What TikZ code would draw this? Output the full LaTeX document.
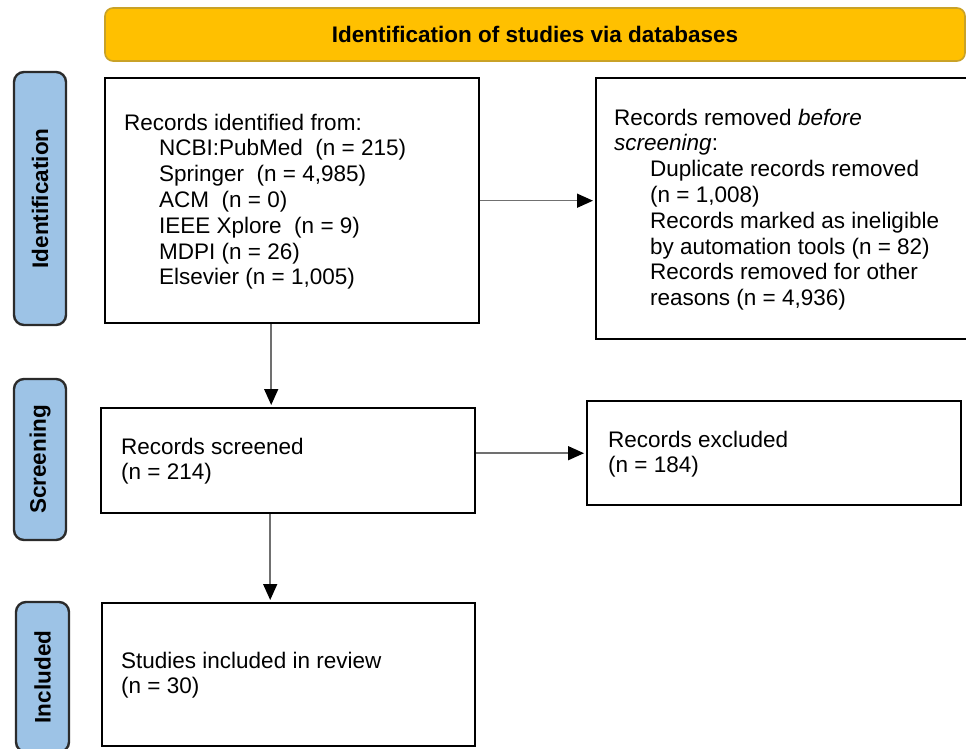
\documentclass[tikz,border=0pt]{standalone}
\usepackage{fontspec}
\setmainfont{Liberation Sans}
\usetikzlibrary{arrows.meta,calc}
\definecolor{bannerfill}{HTML}{FFC000}
\definecolor{bannerdraw}{HTML}{C9A227}
\definecolor{sidefill}{HTML}{9DC3E6}
\definecolor{sidedraw}{HTML}{2B2B2B}
\definecolor{arrowgray}{HTML}{707070}
\begin{document}
\begin{tikzpicture}[x=1pt,y=-1pt,
  every node/.style={font=\fontsize{22.5}{25.8}\selectfont},
  box/.style={draw=black, line width=2.4pt, fill=white, anchor=north west, inner sep=0pt},
  side/.style={draw=sidedraw, line width=2.4pt, fill=sidefill, rounded corners=10pt, inner sep=0pt},
  banner/.style={draw=bannerdraw, line width=1.6pt, fill=bannerfill, rounded corners=8pt, inner sep=0pt},
  txt/.style={anchor=base west, align=left, inner sep=0pt},
  flow/.style={draw=arrowgray, line width=1.5pt, -{Triangle[length=16pt,width=14pt,color=black]}, shorten >=2pt}
]
\clip (0,0) rectangle (966,749);
\fill[white] (0,0) rectangle (966,749);

% banner
\node[banner, minimum width=860pt, minimum height=53pt] (ban) at (535,34.5) {\bfseries Identification of studies via databases};

% side labels
\node[side, minimum width=52pt, minimum height=253pt] (sideI) at (40,198.5) {\rotatebox{90}{\bfseries Identification}};
\node[side, minimum width=52pt, minimum height=161pt] (sideS) at (40,459.5) {\rotatebox{90}{\bfseries Screening}};
\node[side, minimum width=53pt, minimum height=150pt] (sideC) at (42.5,677) {\rotatebox{90}{\bfseries Included}};

% boxes
\node[box, minimum width=374pt, minimum height=245pt] (ident) at (104,77) {};
\node[box, minimum width=385pt, minimum height=261pt] (removed) at (595,77) {};
\node[box, minimum width=374pt, minimum height=105pt] (screen) at (100,407) {};
\node[box, minimum width=374pt, minimum height=104pt] (excl) at (586,400) {};
\node[box, minimum width=373pt, minimum height=143pt] (studies) at (101,602) {};

% texts (anchored at the baseline of the last line)
\node[txt] (identT) at (124,284.8) {Records identified from:\\
\hspace*{35pt}NCBI:PubMed\ \ (n = 215)\\
\hspace*{35pt}Springer\ \ (n = 4,985)\\
\hspace*{35pt}ACM\ \ (n = 0)\\
\hspace*{35pt}IEEE Xplore\ \ (n = 9)\\
\hspace*{35pt}MDPI (n = 26)\\
\hspace*{35pt}Elsevier (n = 1,005)};

\node[txt] (removedT) at (614,305.6) {Records removed \textit{before}\\
\textit{screening}:\\
\hspace*{36pt}Duplicate records removed\\
\hspace*{36pt}(n = 1,008)\\
\hspace*{36pt}Records marked as ineligible\\
\hspace*{36pt}by automation tools (n = 82)\\
\hspace*{36pt}Records removed for other\\
\hspace*{36pt}reasons (n = 4,936)};

\node[txt] (screenT) at (121,479.8) {Records screened\\(n = 214)};
\node[txt] (exclT) at (608,472.8) {Records excluded\\(n = 184)};
\node[txt] (studiesT) at (121,693.8) {Studies included in review\\(n = 30)};

% connectors
\draw[flow] (ident.east) -- (ident.east -| removed.west);
\draw[flow] ([xshift=-21pt]ident.south) -- ([xshift=-21pt]ident.south |- screen.north);
\draw[flow] (excl.west -| screen.east) -- (excl.west);
\draw[flow] ([xshift=-18pt]screen.south) -- ([xshift=-18pt]screen.south |- studies.north);
\end{tikzpicture}
\end{document}
